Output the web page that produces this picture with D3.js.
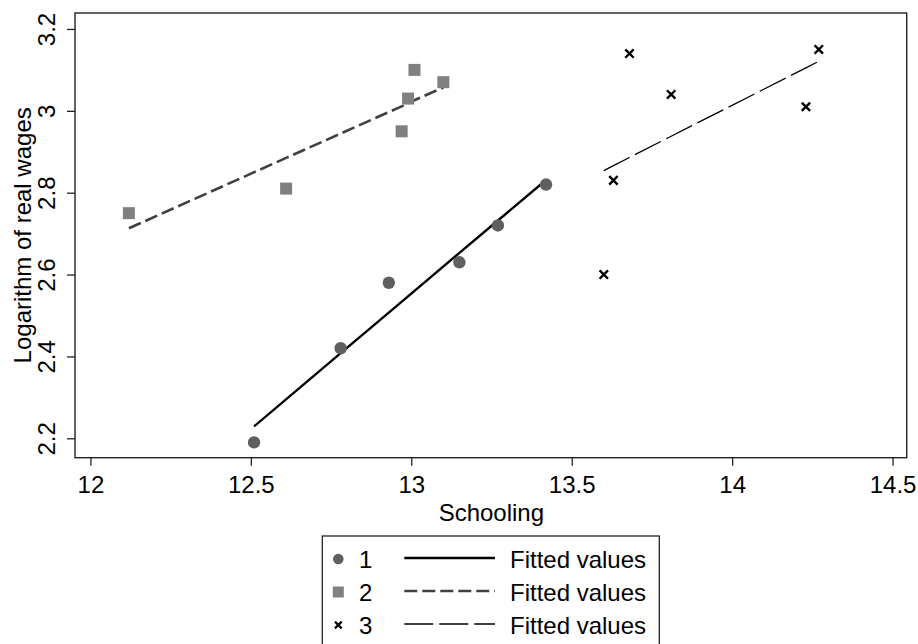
<!DOCTYPE html>
<html>
<head>
<meta charset="utf-8">
<script src="https://cdn.jsdelivr.net/npm/d3@7"></script>
<style>
  body { margin: 0; background: #fff; }
  text { font-family: "Liberation Sans", Arial, sans-serif; fill: #000; }
</style>
</head>
<body>
<svg width="918" height="644"></svg>
<script>
// data
let groups = ['1', '2', '3'];
let fitLabel = 'Fitted values';

let school1 = [12.51, 12.78, 12.93, 13.15, 13.27, 13.42];
let wage1   = [2.19, 2.42, 2.58, 2.63, 2.72, 2.82];
let fit1    = [2.229, 2.408, 2.507, 2.653, 2.732, 2.831];

let school2 = [12.12, 12.61, 12.97, 12.99, 13.01, 13.10];
let wage2   = [2.75, 2.81, 2.95, 3.03, 3.10, 3.07];
let fit2    = [2.713, 2.885, 3.011, 3.018, 3.026, 3.057];

let school3 = [13.60, 13.63, 13.68, 13.81, 14.23, 14.27];
let wage3   = [2.60, 2.83, 3.14, 3.04, 3.01, 3.15];
let fit3    = [2.854, 2.866, 2.886, 2.938, 3.105, 3.121];

let xTicks = [12, 12.5, 13, 13.5, 14, 14.5];
let yTicks = [2.2, 2.4, 2.6, 2.8, 3, 3.2];

let svg = d3.select('svg');

let pLeft = 75, pRight = 906.7, pTop = 13, pBottom = 457.7;

let x = d3.scaleLinear().domain([11.952, 14.544]).range([pLeft, pRight]);
let y = d3.scaleLinear().domain([2.1526, 3.239]).range([pBottom, pTop]);

// frame
svg.append('rect')
   .attr('x', pLeft).attr('y', pTop)
   .attr('width', pRight - pLeft).attr('height', pBottom - pTop)
   .attr('fill', 'none').attr('stroke', '#222').attr('stroke-width', 1.4);

// axes
let xAxis = svg.append('g')
   .attr('transform', 'translate(0,' + pBottom + ')')
   .call(d3.axisBottom(x).tickValues(xTicks).tickSize(8).tickFormat(d => String(d)));
xAxis.select('.domain').remove();
xAxis.selectAll('line').attr('stroke', '#222').attr('stroke-width', 1.3);
xAxis.selectAll('text')
     .attr('y', 35).attr('dy', 0)
     .attr('font-size', 24).attr('font-family', null).attr('fill', '#000');

let yAxis = svg.append('g')
   .attr('transform', 'translate(' + pLeft + ',0)')
   .call(d3.axisLeft(y).tickValues(yTicks).tickSize(8).tickFormat(d => String(d)));
yAxis.select('.domain').remove();
yAxis.selectAll('line').attr('stroke', '#222').attr('stroke-width', 1.3);
yAxis.selectAll('text')
     .attr('transform', 'rotate(-90)')
     .attr('x', 0).attr('y', -20).attr('dy', 0)
     .attr('text-anchor', 'middle')
     .attr('font-size', 24).attr('font-family', null).attr('fill', '#000');

// axis titles
svg.append('text')
   .attr('x', (pLeft + pRight) / 2 + 0.5).attr('y', 521)
   .attr('text-anchor', 'middle').attr('font-size', 24)
   .text('Schooling');

svg.append('text')
   .attr('transform', 'translate(31,' + ((pTop + pBottom) / 2) + ') rotate(-90)')
   .attr('text-anchor', 'middle').attr('font-size', 24)
   .text('Logarithm of real wages');

// fitted lines
let styles = [
  {stroke: '#000', width: 2.4, dash: null},
  {stroke: '#404040', width: 2.6, dash: '13,5'},
  {stroke: '#000', width: 1.3, dash: '29,6'}
];

let fits = [
  school1.map((s, i) => [s, fit1[i]]),
  school2.map((s, i) => [s, fit2[i]]),
  school3.map((s, i) => [s, fit3[i]])
];

let line = d3.line().x(d => x(d[0])).y(d => y(d[1]));

fits.forEach((f, i) => {
  svg.append('path')
     .attr('d', line(f))
     .attr('fill', 'none')
     .attr('stroke', styles[i].stroke)
     .attr('stroke-width', styles[i].width)
     .attr('stroke-dasharray', styles[i].dash);
});

// markers
function circle(g, cx, cy, r) {
  g.append('circle').attr('cx', cx).attr('cy', cy).attr('r', r).attr('fill', '#5f5f5f');
}
function square(g, cx, cy, s) {
  g.append('rect').attr('x', cx - s / 2).attr('y', cy - s / 2)
   .attr('width', s).attr('height', s).attr('fill', '#808080');
}
function cross(g, cx, cy, h, w) {
  g.append('path')
   .attr('d', 'M' + (cx - h) + ',' + (cy - h) + 'L' + (cx + h) + ',' + (cy + h) +
              'M' + (cx - h) + ',' + (cy + h) + 'L' + (cx + h) + ',' + (cy - h))
   .attr('stroke', '#000').attr('stroke-width', w);
}

let pts = svg.append('g');
school1.forEach((s, i) => circle(pts, x(s), y(wage1[i]), 6.2));
school2.forEach((s, i) => square(pts, x(s), y(wage2[i]), 12));
school3.forEach((s, i) => cross(pts, x(s), y(wage3[i]), 4.2, 2.4));

// legend
let leg = svg.append('g');
leg.append('rect')
   .attr('x', 322.3).attr('y', 536)
   .attr('width', 337).attr('height', 130)
   .attr('fill', '#fff').attr('stroke', '#222').attr('stroke-width', 1.3);

let rowY = [559, 592, 625];
groups.forEach((g, i) => {
  let cy = rowY[i];
  if (i === 0) circle(leg, 338.3, cy, 5.3);
  if (i === 1) square(leg, 338.3, cy, 11);
  if (i === 2) cross(leg, 338.3, cy, 3.4, 2.2);
  leg.append('text').attr('x', 359).attr('y', cy + 9).attr('font-size', 24).text(g);
  leg.append('line')
     .attr('x1', 404.3).attr('x2', 495).attr('y1', cy - 1).attr('y2', cy - 1)
     .attr('stroke', styles[i].stroke)
     .attr('stroke-width', styles[i].width)
     .attr('stroke-dasharray', styles[i].dash);
  leg.append('text').attr('x', 510).attr('y', cy + 9).attr('font-size', 24).text(fitLabel);
});
</script>
</body>
</html>
